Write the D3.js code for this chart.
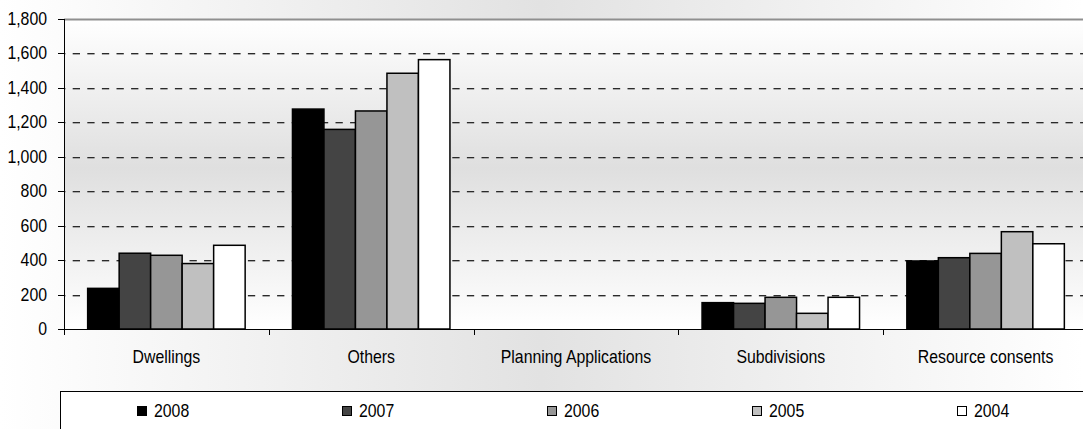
<!DOCTYPE html>
<html>
<head>
<meta charset="utf-8">
<script src="https://cdn.jsdelivr.net/npm/d3@7"></script>
<style>
  html, body { margin: 0; padding: 0; background: #fff; }
  svg { display: block; }
  text { font-family: "Liberation Sans", Arial, sans-serif; fill: #000; }
</style>
</head>
<body>
<svg id="chart" width="1083" height="429"></svg>
<script>
// Application counts by category and year
const categories = ["Dwellings", "Others", "Planning Applications", "Subdivisions", "Resource consents"];
const years = ["2008", "2007", "2006", "2005", "2004"];
const values2008 = [236, 1277, 0, 153, 395];
const values2007 = [440, 1159, 0, 149, 414];
const values2006 = [428, 1266, 0, 184, 439];
const values2005 = [380, 1485, 0, 91, 565];
const values2004 = [486, 1564, 0, 184, 495];
const yTicks = [0, 200, 400, 600, 800, 1000, 1200, 1400, 1600, 1800];
const yearColors = ["#000000", "#444444", "#969696", "#c0c0c0", "#ffffff"];

const seriesByYear = [values2008, values2007, values2006, values2005, values2004];
const rows = categories.map((c, i) => ({
  category: c,
  bars: years.map((y, j) => ({ year: y, value: seriesByYear[j][i] }))
}));

const W = 1083, H = 429;
const plot = { left: 64, top: 19, bottom: 329, right: 1088 };
const FONT = 18, SX = 0.88;

const svg = d3.select("#chart");
const defs = svg.append("defs");

// page background: light at the sides, grey in the middle
const bg = defs.append("linearGradient").attr("id", "bgGrad")
  .attr("x1", "0").attr("y1", "0").attr("x2", "1").attr("y2", "0");
bg.append("stop").attr("offset", "0").attr("stop-color", "#ffffff");
bg.append("stop").attr("offset", "0.5").attr("stop-color", "#e2e2e2");
bg.append("stop").attr("offset", "1").attr("stop-color", "#ffffff");

// plot area: white top and bottom, grey in the middle
const pg = defs.append("linearGradient").attr("id", "plotGrad")
  .attr("x1", "0").attr("y1", "0").attr("x2", "0").attr("y2", "1");
pg.append("stop").attr("offset", "0").attr("stop-color", "#ffffff");
pg.append("stop").attr("offset", "0.48").attr("stop-color", "#dfdfdf");
pg.append("stop").attr("offset", "1").attr("stop-color", "#ffffff");

svg.append("rect").attr("width", W).attr("height", H).attr("fill", "url(#bgGrad)");

const y = d3.scaleLinear().domain([0, 1800]).range([plot.bottom, plot.top]);
const x0 = d3.scaleBand().domain(categories).range([plot.left, plot.right])
  .paddingInner(0.231).paddingOuter(0.1155);
const x1 = d3.scaleBand().domain(years).range([0, x0.bandwidth()]);
const color = d3.scaleOrdinal().domain(years).range(yearColors);
const step = x0.step();

svg.append("rect")
  .attr("x", plot.left).attr("y", plot.top)
  .attr("width", plot.right - plot.left).attr("height", plot.bottom - plot.top)
  .attr("fill", "url(#plotGrad)");

// top border of the plot area
svg.append("line")
  .attr("x1", plot.left).attr("x2", plot.right)
  .attr("y1", y(1800) + 0.5).attr("y2", y(1800) + 0.5)
  .attr("stroke", "#8f8f8f").attr("stroke-width", 2);

// dashed gridlines with a soft shadow underneath
const grid = svg.append("g");
yTicks.filter(t => t > 0 && t < 1800).forEach(t => {
  const yy = Math.round(y(t)) + 0.5;
  grid.append("line")
    .attr("x1", plot.left).attr("x2", plot.right)
    .attr("y1", yy + 1).attr("y2", yy + 1)
    .attr("stroke", "#a8a8a8").attr("stroke-width", 1)
    .attr("stroke-dasharray", "7.3,7.3").attr("stroke-dashoffset", 5.9);
  grid.append("line")
    .attr("x1", plot.left).attr("x2", plot.right)
    .attr("y1", yy).attr("y2", yy)
    .attr("stroke", "#2a2a2a").attr("stroke-width", 1)
    .attr("stroke-dasharray", "7.3,7.3").attr("stroke-dashoffset", 5.9);
});

// bars
const groups = svg.append("g").selectAll("g").data(rows).join("g")
  .attr("transform", d => `translate(${x0(d.category)},0)`);
groups.selectAll("rect").data(d => d.bars.filter(b => b.value > 0)).join("rect")
  .attr("x", d => x1(d.year))
  .attr("y", d => y(d.value))
  .attr("width", x1.bandwidth())
  .attr("height", d => y(0) - y(d.value))
  .attr("fill", d => color(d.year))
  .attr("stroke", "#000").attr("stroke-width", 1.5);

// axes lines
svg.append("line").attr("x1", plot.left + 0.5).attr("x2", plot.left + 0.5)
  .attr("y1", plot.top).attr("y2", plot.bottom + 6)
  .attr("stroke", "#000");
svg.append("line").attr("x1", plot.left).attr("x2", plot.right)
  .attr("y1", plot.bottom + 0.5).attr("y2", plot.bottom + 0.5)
  .attr("stroke", "#000");

// y ticks and labels
const yAxis = svg.append("g");
yTicks.forEach(t => {
  const yy = Math.round(y(t)) + 0.5;
  yAxis.append("line").attr("x1", plot.left - 6).attr("x2", plot.left)
    .attr("y1", yy).attr("y2", yy).attr("stroke", "#000");
  yAxis.append("text")
    .attr("transform", `translate(47,${yy}) scale(${SX},1)`)
    .attr("text-anchor", "end").attr("dominant-baseline", "central")
    .attr("font-size", FONT)
    .text(d3.format(",")(t));
});

// category boundary ticks and labels
const xAxis = svg.append("g");
categories.forEach(c => {
  const bx = Math.round(x0(c) - step * 0.1155) + 0.5;
  xAxis.append("line").attr("x1", bx).attr("x2", bx)
    .attr("y1", plot.bottom).attr("y2", plot.bottom + 6).attr("stroke", "#000");
  xAxis.append("text")
    .attr("transform", `translate(${x0(c) + x0.bandwidth() / 2},357) scale(${SX},1)`)
    .attr("text-anchor", "middle").attr("dominant-baseline", "central")
    .attr("font-size", FONT)
    .text(c);
});

// legend
const legendLeft = 60, legendTop = 391;
svg.append("rect")
  .attr("x", legendLeft + 0.5).attr("y", legendTop + 0.5)
  .attr("width", 1040).attr("height", 60)
  .attr("fill", "#fff").attr("stroke", "#000").attr("stroke-width", 1);
const lx = d3.scaleBand().domain(years).range([legendLeft, legendLeft + 1025]);
const legendItems = svg.append("g").selectAll("g").data(years).join("g")
  .attr("transform", d => `translate(${lx(d) + 77},411)`);
legendItems.append("rect")
  .attr("x", 0.5).attr("y", -4.5).attr("width", 9).attr("height", 9)
  .attr("fill", d => color(d)).attr("stroke", "#000").attr("stroke-width", 1);
legendItems.append("text")
  .attr("transform", `translate(17,0) scale(${SX},1)`)
  .attr("dominant-baseline", "central")
  .attr("font-size", FONT)
  .text(d => d);
</script>
</body>
</html>
